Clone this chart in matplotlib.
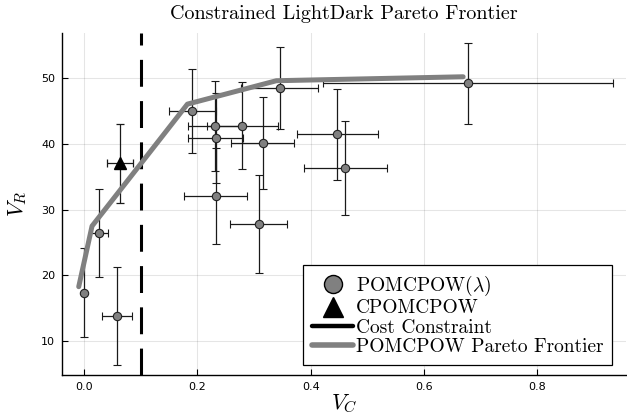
import matplotlib
matplotlib.use("Agg")
import matplotlib.pyplot as plt
from matplotlib.lines import Line2D

plt.rcParams['mathtext.fontset'] = 'cm'
plt.rcParams['axes.unicode_minus'] = False

# POMCPOW(lambda) results
pomcpow_vc = [0.0, 0.026, 0.058, 0.191, 0.231, 0.232, 0.232, 0.2795, 0.308, 0.315, 0.345, 0.447, 0.461, 0.678]
pomcpow_vr = [17.4, 26.4, 13.85, 45.0, 42.7, 40.9, 32.1, 42.7, 27.8, 40.06, 48.4, 41.4, 36.3, 49.15]
pomcpow_vc_err = [0.002, 0.016, 0.026, 0.041, 0.048, 0.048, 0.056, 0.063, 0.05, 0.055, 0.068, 0.072, 0.073, 0.256]
pomcpow_vr_err = [6.7, 6.7, 7.5, 6.4, 6.8, 6.8, 7.3, 6.6, 7.4, 7.0, 6.2, 6.9, 7.1, 6.1]

# CPOMCPOW result
cpomcpow_vc = [0.063]
cpomcpow_vr = [37.0]
cpomcpow_vc_err = [0.023]
cpomcpow_vr_err = [6.05]

# cost constraint
cost_constraint = 0.1

# Pareto frontier
frontier_vc = [-0.0094, 0.0141, 0.1824, 0.3394, 0.669]
frontier_vr = [18.3, 27.5, 46.0, 49.55, 50.15]

xticks = [0.0, 0.2, 0.4, 0.6, 0.8]
yticks = [10, 20, 30, 40, 50]

fig = plt.figure(figsize=(6.27, 4.17), dpi=100)
ax = fig.add_axes([0.099, 0.1007, 0.899, 0.8203])

ax.errorbar(pomcpow_vc, pomcpow_vr, xerr=pomcpow_vc_err, yerr=pomcpow_vr_err,
            fmt='o', ms=6, mfc='#808080', mec='#222222', mew=0.8,
            ecolor='#1a1a1a', elinewidth=0.9, capsize=3, capthick=0.9, zorder=3)
ax.errorbar(cpomcpow_vc, cpomcpow_vr, xerr=cpomcpow_vc_err, yerr=cpomcpow_vr_err,
            fmt='^', ms=8, mfc='black', mec='black',
            ecolor='#1a1a1a', elinewidth=0.9, capsize=3, capthick=0.9, zorder=3)
ax.axvline(cost_constraint, color='black', lw=2.2, linestyle=(0, (8.8, 4.7)), zorder=4)
ax.plot(frontier_vc, frontier_vr, color='#808080', lw=3.6, solid_capstyle='round',
        solid_joinstyle='round', zorder=5)

ax.set_xlim(-0.0388, 0.956)
ax.set_ylim(4.9, 56.8)
ax.set_xticks(xticks)
ax.set_yticks(yticks)
ax.set_xticklabels([f"{v:.1f}" for v in xticks])
ax.tick_params(direction='in', length=4, width=0.8, labelsize=8, colors='black', pad=5)
ax.grid(True, color='#000000', alpha=0.1, lw=0.8)
ax.set_axisbelow(True)
for s in ['top', 'right']:
    ax.spines[s].set_visible(False)
for s in ['left', 'bottom']:
    ax.spines[s].set_linewidth(1.0)

ax.set_title('Constrained LightDark Pareto Frontier', fontfamily='cmr10', fontsize=14.5, pad=10)
ax.set_xlabel(r'$V_C$', fontsize=16, labelpad=1)
ax.set_ylabel(r'$V_R$', fontsize=16, labelpad=9)

handles = [
    Line2D([], [], marker='o', ls='none', ms=13, mfc='#808080', mec='black', mew=1.0),
    Line2D([], [], marker='^', ls='none', ms=14, mfc='black', mec='black'),
    Line2D([], [], color='black', lw=3.2, solid_capstyle='round'),
    Line2D([], [], color='#808080', lw=4.0, solid_capstyle='round'),
]
labels = [r'POMCPOW($\lambda$)', 'CPOMCPOW', 'Cost Constraint', 'POMCPOW Pareto Frontier']
leg = ax.legend(handles, labels, loc='lower right', bbox_to_anchor=(0.976, 0.03),
                prop={'family': 'cmr10', 'size': 14}, frameon=True, fancybox=False,
                edgecolor='black', framealpha=1, handlelength=2.1, handletextpad=0.15,
                labelspacing=0.07, borderpad=0.45, borderaxespad=0.0)
leg.get_frame().set_linewidth(0.9)

fig.savefig('out.png', dpi=100)
